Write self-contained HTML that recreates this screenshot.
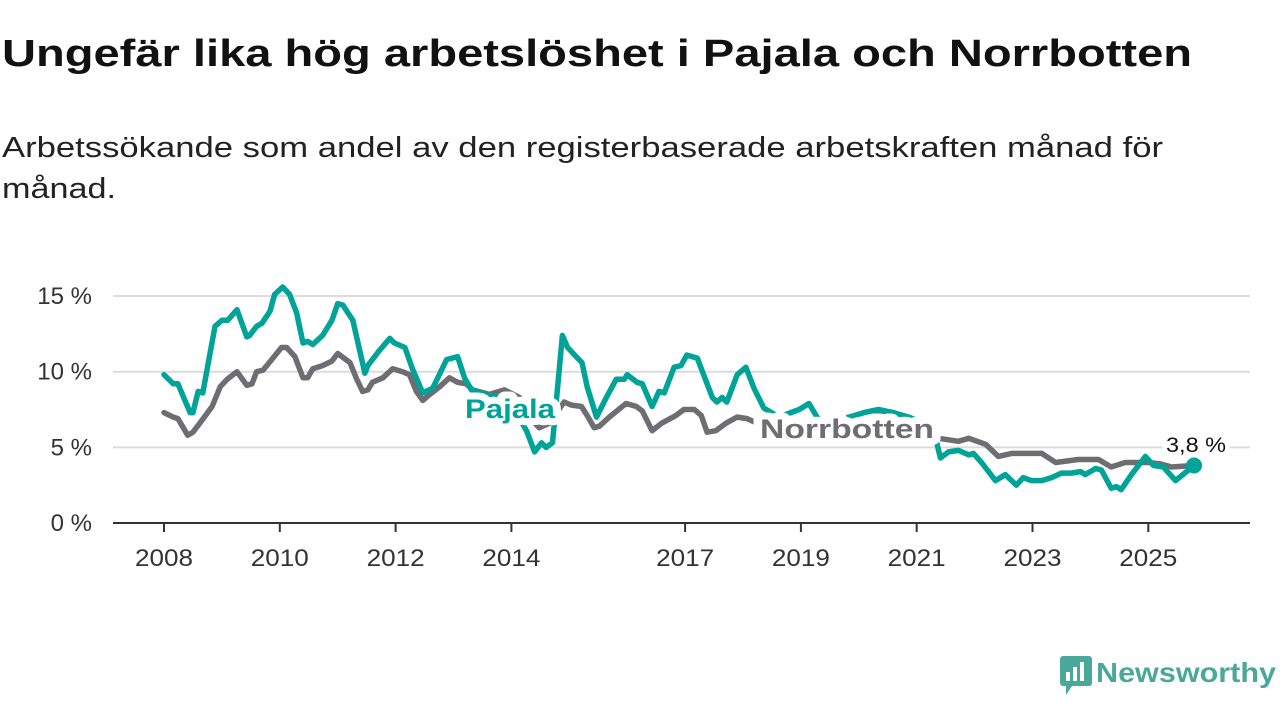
<!DOCTYPE html>
<html><head><meta charset="utf-8"><style>
html,body{margin:0;padding:0;background:#fff;}
svg{display:block;font-family:"Liberation Sans",sans-serif;}
</style></head><body>
<svg id="chart" width="1280" height="720" viewBox="0 0 1280 720">
<text x="2" y="66" font-size="38" font-weight="bold" fill="#111" textLength="1190" lengthAdjust="spacingAndGlyphs">Ungefär lika hög arbetslöshet i Pajala och Norrbotten</text>
<text x="2" y="157" font-size="29" fill="#222" textLength="1161" lengthAdjust="spacingAndGlyphs">Arbetssökande som andel av den registerbaserade arbetskraften månad för</text>
<text x="2" y="198" font-size="29" fill="#222" textLength="114" lengthAdjust="spacingAndGlyphs">månad.</text>
<g id="grid"></g>
<g id="axes"></g>
<g id="series"></g>
<g id="labels"></g>
<g>
<rect x="1060" y="656" width="32" height="30" rx="3" fill="#4aa89b"/>
<polygon points="1066,686 1072,686 1066,695" fill="#4aa89b"/>
<rect x="1066" y="672" width="4" height="9" fill="#fff"/>
<rect x="1073" y="667" width="4" height="14" fill="#fff"/>
<rect x="1080" y="662" width="4" height="19" fill="#fff"/>
<text x="1096" y="682" font-size="28" font-weight="bold" fill="#4aa89b" textLength="180" lengthAdjust="spacingAndGlyphs">Newsworthy</text>
</g>
</svg>
<script>
const yTicks=[0,5,10,15];
const yTickLabels=["0 %","5 %","10 %","15 %"];
const xTicks=[2008,2010,2012,2014,2017,2019,2021,2023,2025];
const xTickLabels=["2008","2010","2012","2014","2017","2019","2021","2023","2025"];
const pajalaDates=[2008.0,2008.16,2008.24,2008.45,2008.5,2008.59,2008.67,2008.88,2009.0,2009.1,2009.26,2009.43,2009.48,2009.6,2009.69,2009.83,2009.91,2010.05,2010.17,2010.29,2010.4,2010.48,2010.57,2010.74,2010.9,2011.0,2011.09,2011.26,2011.47,2011.52,2011.72,2011.9,2011.98,2012.16,2012.29,2012.47,2012.64,2012.88,2013.07,2013.19,2013.31,2013.53,2013.79,2014.05,2014.26,2014.4,2014.52,2014.6,2014.71,2014.88,2014.97,2015.12,2015.22,2015.31,2015.47,2015.64,2015.81,2015.95,2016.0,2016.17,2016.26,2016.43,2016.55,2016.64,2016.81,2016.93,2017.03,2017.21,2017.29,2017.47,2017.55,2017.64,2017.72,2017.9,2018.05,2018.19,2018.36,2018.62,2018.97,2019.14,2019.31,2019.57,2019.83,2020.09,2020.34,2020.6,2020.86,2021.12,2021.34,2021.41,2021.55,2021.72,2021.9,2021.98,2022.12,2022.36,2022.53,2022.72,2022.84,2022.98,2023.16,2023.33,2023.5,2023.67,2023.83,2023.91,2024.09,2024.19,2024.36,2024.45,2024.53,2024.71,2024.95,2025.09,2025.26,2025.47,2025.79];
const pajalaValues=[9.8,9.2,9.2,7.3,7.3,8.7,8.6,13.0,13.4,13.4,14.1,12.3,12.4,13.0,13.2,14.0,15.1,15.6,15.1,13.9,11.9,12.0,11.8,12.4,13.4,14.5,14.4,13.4,9.9,10.4,11.4,12.2,11.9,11.6,10.2,8.6,8.9,10.8,11.0,9.6,8.8,8.5,8.3,7.5,6.1,4.7,5.3,5.0,5.3,12.4,11.6,11.0,10.6,9.0,7.0,8.3,9.5,9.5,9.8,9.3,9.2,7.7,8.7,8.6,10.3,10.4,11.1,10.9,10.1,8.3,8.0,8.3,8.0,9.8,10.3,8.9,7.6,7.0,7.5,7.9,6.8,6.8,7.0,7.3,7.5,7.3,7.0,6.6,5.4,4.3,4.7,4.8,4.5,4.6,4.0,2.8,3.2,2.5,3.0,2.8,2.8,3.0,3.3,3.3,3.4,3.2,3.6,3.5,2.3,2.4,2.2,3.2,4.4,3.8,3.7,2.8,3.8];
const norrDates=[2008.0,2008.16,2008.24,2008.41,2008.5,2008.62,2008.83,2008.97,2009.09,2009.26,2009.43,2009.52,2009.6,2009.71,2009.88,2010.03,2010.12,2010.26,2010.4,2010.48,2010.57,2010.74,2010.9,2011.0,2011.21,2011.33,2011.43,2011.52,2011.6,2011.78,2011.95,2012.12,2012.24,2012.36,2012.47,2012.59,2012.76,2012.93,2013.07,2013.22,2013.33,2013.62,2013.88,2014.14,2014.31,2014.48,2014.66,2014.91,2015.03,2015.21,2015.31,2015.43,2015.52,2015.69,2015.98,2016.16,2016.26,2016.43,2016.6,2016.84,2016.98,2017.16,2017.28,2017.38,2017.53,2017.71,2017.9,2018.07,2018.24,2018.53,2018.97,2019.48,2020.0,2020.34,2020.69,2021.03,2021.38,2021.72,2021.9,2022.19,2022.41,2022.64,2023.16,2023.4,2023.79,2024.14,2024.36,2024.6,2025.0,2025.22,2025.4,2025.79];
const norrValues=[7.3,7.0,6.9,5.8,6.0,6.6,7.7,9.0,9.5,10.0,9.1,9.2,10.0,10.1,10.9,11.6,11.6,11.0,9.6,9.6,10.2,10.4,10.7,11.2,10.6,9.5,8.7,8.8,9.3,9.6,10.2,10.0,9.8,8.7,8.1,8.5,9.0,9.6,9.3,9.2,8.8,8.5,8.8,8.3,7.0,6.3,6.6,8.0,7.8,7.7,7.1,6.3,6.4,7.0,7.9,7.7,7.4,6.1,6.6,7.1,7.5,7.5,7.1,6.0,6.1,6.6,7.0,6.9,6.6,6.0,6.2,6.0,6.3,7.2,6.8,6.4,5.6,5.4,5.6,5.2,4.4,4.6,4.6,4.0,4.2,4.2,3.7,4.0,4.0,3.9,3.7,3.8];

const NS="http://www.w3.org/2000/svg";
const x0=113,x1=1250,y0=523;
function xs(v){return 164+(v-2008)*57.9;}
function ys(v){return y0-v*15.13;}
function mk(tag,attrs,parent){const e=document.createElementNS(NS,tag);for(const k in attrs)e.setAttribute(k,attrs[k]);parent.appendChild(e);return e;}
const grid=document.getElementById('grid'),axes=document.getElementById('axes'),series=document.getElementById('series'),labels=document.getElementById('labels');
yTicks.forEach((t,i)=>{
  if(t>0){const g=mk('line',{x1:x0,x2:x1,y1:ys(t),y2:ys(t),stroke:'#dcdcdc','stroke-width':2},grid);
  
  }
  const l=mk('text',{x:92,y:ys(t)+8,'text-anchor':'end','font-size':24,fill:'#333'},axes);
  l.textContent=yTickLabels[i];
  
  
});
const ax=mk('line',{x1:x0,x2:x1,y1:y0,y2:y0,stroke:'#333','stroke-width':2},axes);


xTicks.forEach((t,i)=>{
  const tk=mk('line',{x1:xs(t),x2:xs(t),y1:y0,y2:y0+9,stroke:'#333','stroke-width':2},axes);
  
  
  const l=mk('text',{x:xs(t),y:566,'text-anchor':'middle','font-size':24,fill:'#333',textLength:58,lengthAdjust:'spacingAndGlyphs'},axes);
  l.textContent=xTickLabels[i];
  
  
});
function path(d,v){return d.map((t,i)=>(i?'L':'M')+xs(t).toFixed(1)+','+ys(v[i]).toFixed(1)).join('');}
const pn=mk('path',{d:path(norrDates,norrValues),fill:'none',stroke:'#6e6d73','stroke-width':5.5,'stroke-linejoin':'round','stroke-linecap':'round'},series);


const pp=mk('path',{d:path(pajalaDates,pajalaValues),fill:'none',stroke:'#00a397','stroke-width':5.5,'stroke-linejoin':'round','stroke-linecap':'round'},series);


const lastI=pajalaDates.length-1;
const dot=mk('circle',{cx:xs(pajalaDates[lastI]),cy:ys(pajalaValues[lastI]),r:8,fill:'#00a397'},series);


function lab(txt,x,y,size,fill,weight,name,len,sw){
  const t=mk('text',{x:x,y:y,'font-size':size,fill:fill,'font-weight':weight,stroke:'#fff','stroke-width':sw,'stroke-linejoin':'round','paint-order':'stroke',textLength:len,lengthAdjust:'spacingAndGlyphs'},labels);
  t.textContent=txt;
  
  
}
lab('Pajala',465,418,27,'#00a397','bold','pajala-label',90,14);
lab('Norrbotten',760,438,27,'#6e6d73','bold','norrbotten-label',174,14);
lab(pajalaValues[lastI].toFixed(1).replace('.',',')+' %',1166,452,21,'#111','normal','last-value-label',60,8);
</script>
</body></html>
